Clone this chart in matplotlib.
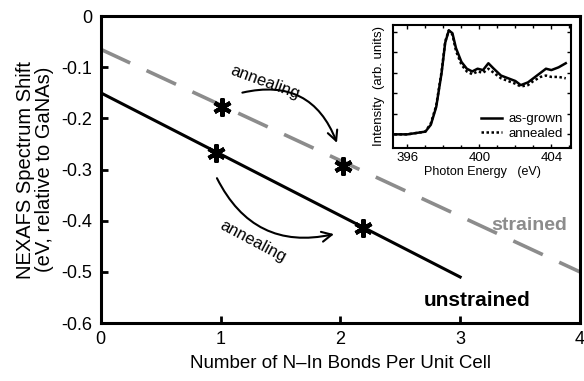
import matplotlib
matplotlib.use("Agg")
import matplotlib.pyplot as plt
import numpy as np

plt.rcParams['font.family'] = ['Liberation Sans', 'DejaVu Sans']

# fitted lines (endpoints)
strained_x = [0, 4]
strained_y = [-0.065, -0.50]
unstrained_x = [0, 3]
unstrained_y = [-0.15, -0.51]

# measured points
strained_pts_x = [1.01, 2.02]
strained_pts_y = [-0.178, -0.294]
unstrained_pts_x = [0.96, 2.19]
unstrained_pts_y = [-0.268, -0.415]

# inset spectra (normalised intensity)
energy = [395.0, 395.5, 396.0, 396.5, 397.0, 397.3, 397.6, 397.9, 398.1, 398.3,
          398.5, 398.7, 399.0, 399.3, 399.6, 399.9, 400.2, 400.5, 400.8, 401.2,
          401.6, 402.0, 402.3, 402.7, 403.0, 403.4, 403.7, 404.0, 404.4, 404.8]
as_grown = [0.15, 0.15, 0.15, 0.16, 0.17, 0.22, 0.35, 0.60, 0.82, 0.91,
            0.89, 0.78, 0.68, 0.63, 0.61, 0.63, 0.62, 0.67, 0.63, 0.58,
            0.56, 0.54, 0.51, 0.53, 0.56, 0.60, 0.63, 0.62, 0.64, 0.67]
annealed = [0.15, 0.15, 0.15, 0.16, 0.17, 0.23, 0.36, 0.61, 0.83, 0.91,
            0.88, 0.76, 0.66, 0.61, 0.59, 0.61, 0.60, 0.63, 0.60, 0.56,
            0.54, 0.52, 0.50, 0.51, 0.54, 0.57, 0.58, 0.57, 0.57, 0.56]

fig = plt.figure(figsize=(5.84, 3.81), dpi=100)
ax = fig.add_axes([0.1724, 0.152, 0.8207, 0.806])

ax.plot(strained_x, strained_y, color='#8c8c8c', lw=2.6, dashes=(9, 5))
ax.plot(unstrained_x, unstrained_y, color='black', lw=2.2)
ax.plot(strained_pts_x, strained_pts_y, ls='none', marker=(6, 2, 0),
        ms=13, mew=3, color='black')
ax.plot(unstrained_pts_x, unstrained_pts_y, ls='none', marker=(6, 2, 0),
        ms=13, mew=3, color='black')

# annealing arrows
ax.annotate('', xy=(1.98, -0.253), xytext=(1.16, -0.151),
            arrowprops=dict(arrowstyle='->', lw=1.5, color='black',
                            mutation_scale=18,
                            connectionstyle='arc3,rad=-0.45'))
ax.annotate('', xy=(1.97, -0.425), xytext=(0.96, -0.312),
            arrowprops=dict(arrowstyle='->', lw=1.5, color='black',
                            mutation_scale=18,
                            connectionstyle='arc3,rad=0.4'))
ax.text(1.37, -0.13, 'annealing', rotation=-20, fontsize=12,
        ha='center', va='center')
ax.text(1.27, -0.44, 'annealing', rotation=-28, fontsize=12,
        ha='center', va='center')

ax.text(3.58, -0.41, 'strained', color='#8c8c8c', fontsize=14,
        fontweight='bold', ha='center', va='center')
ax.text(3.14, -0.555, 'unstrained', color='black', fontsize=15,
        fontweight='bold', ha='center', va='center')

ax.set_xlim(0, 4)
ax.set_ylim(-0.6, 0)
ax.set_xticks([0, 1, 2, 3, 4])
ax.set_yticks([0, -0.1, -0.2, -0.3, -0.4, -0.5, -0.6])
ax.set_yticklabels(['0', '-0.1', '-0.2', '-0.3', '-0.4', '-0.5', '-0.6'])
ax.tick_params(direction='in', length=5, width=2, labelsize=13, pad=6)
for s in ax.spines.values():
    s.set_linewidth(2.2)
ax.set_xlabel('Number of N\u2013In Bonds Per Unit Cell', fontsize=13.5,
              labelpad=5)
ax.set_ylabel('NEXAFS Spectrum Shift\n(eV, relative to GaNAs)', fontsize=14.5,
              labelpad=5, linespacing=1.05)

# inset
ins = fig.add_axes([0.673, 0.6115, 0.305, 0.323])
ins.plot(energy, as_grown, color='black', lw=1.8, label='as-grown')
ins.plot(energy, annealed, color='black', lw=1.8, ls=(0, (1, 1)),
         label='annealed')
ins.set_xlim(395.2, 405.1)
ins.set_ylim(0.05, 0.95)
ins.set_xticks([396, 400, 404])
ins.set_xticks(np.arange(396, 406, 1), minor=True)
ins.set_yticks(np.arange(0.15, 0.95, 0.15))
ins.set_yticklabels([])
ins.tick_params(which='both', direction='in', top=True, right=True,
                labelsize=9.5, pad=3)
ins.tick_params(which='major', length=3, width=1)
ins.tick_params(which='minor', length=2, width=1)
for s in ins.spines.values():
    s.set_linewidth(1.5)
ins.set_xlabel('Photon Energy   (eV)', fontsize=9, labelpad=1)
ins.set_ylabel('Intensity  (arb. units)', fontsize=9.5, labelpad=3)
ins.legend(loc='lower right', frameon=False, fontsize=9.5, handlelength=1.6,
           handletextpad=0.5, borderaxespad=0.2, labelspacing=0.2)

fig.savefig('out.png', dpi=100)
